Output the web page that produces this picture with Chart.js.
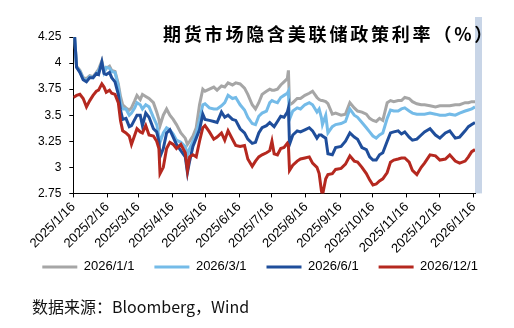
<!DOCTYPE html>
<html>
<head>
<meta charset="utf-8">
<script src="https://cdn.jsdelivr.net/npm/chart.js@4.4.1/dist/chart.umd.min.js"></script>
<style>
  body { margin: 0; background: #fff; }
  #wrap { position: relative; width: 514px; height: 328px; overflow: hidden; }
  #title { position: absolute; left: 163px; top: 23px; font: bold 18px "Noto Sans CJK SC", sans-serif; letter-spacing: 2.8px; line-height: 20px; color: #000; white-space: nowrap; }
  #source { position: absolute; left: 32px; top: 295px; font: 16px "Noto Sans CJK SC", sans-serif; line-height: 22px; color: #111; white-space: nowrap; }
</style>
</head>
<body>
<div id="wrap">
  <canvas id="chart" width="514" height="328"></canvas>
  <div id="title">期货市场隐含美联储政策利率（%）</div>
  <div id="source">数据来源：Bloomberg，Wind</div>
</div>
<script>
const seriesNames = ["2026/1/1", "2026/3/1", "2026/6/1", "2026/12/1"];
const seriesColors = ["#a6a6a6", "#74bbe8", "#1f4e9b", "#b5281f"];

const tickLabels = ["2025/1/16", "2025/2/16", "2025/3/16", "2025/4/16", "2025/5/16", "2025/6/16",
  "2025/7/16", "2025/8/16", "2025/9/16", "2025/10/16", "2025/11/16", "2025/12/16", "2026/1/16"];

const dates = [
  "2025-01-16", "2025-01-19", "2025-01-22", "2025-01-25", "2025-01-28", "2025-01-31",
  "2025-02-03", "2025-02-06", "2025-02-08", "2025-02-11", "2025-02-13", "2025-02-15",
  "2025-02-18", "2025-02-20", "2025-02-23", "2025-02-26", "2025-02-28", "2025-03-02",
  "2025-03-05", "2025-03-08", "2025-03-10", "2025-03-13", "2025-03-15", "2025-03-18",
  "2025-03-20", "2025-03-23", "2025-03-26", "2025-03-30", "2025-04-02", "2025-04-04",
  "2025-04-05", "2025-04-08", "2025-04-11", "2025-04-14", "2025-04-17", "2025-04-20",
  "2025-04-24", "2025-04-28", "2025-04-30", "2025-05-02", "2025-05-05", "2025-05-08",
  "2025-05-11", "2025-05-14", "2025-05-16", "2025-05-20", "2025-05-24", "2025-05-27",
  "2025-05-31", "2025-06-03", "2025-06-06", "2025-06-10", "2025-06-13", "2025-06-17",
  "2025-06-21", "2025-06-24", "2025-06-28", "2025-07-01", "2025-07-04", "2025-07-07",
  "2025-07-11", "2025-07-14", "2025-07-16", "2025-07-18", "2025-07-21", "2025-07-24",
  "2025-07-27", "2025-07-30", "2025-07-31", "2025-08-01", "2025-08-04", "2025-08-08",
  "2025-08-11", "2025-08-15", "2025-08-19", "2025-08-22", "2025-08-26", "2025-08-28",
  "2025-08-30", "2025-08-31", "2025-09-03", "2025-09-05", "2025-09-09", "2025-09-12",
  "2025-09-17", "2025-09-21", "2025-09-25", "2025-09-29", "2025-10-02", "2025-10-06",
  "2025-10-10", "2025-10-13", "2025-10-16", "2025-10-19", "2025-10-22", "2025-10-25",
  "2025-10-29", "2025-11-01", "2025-11-04", "2025-11-08", "2025-11-11", "2025-11-14",
  "2025-11-18", "2025-11-21", "2025-11-25", "2025-11-29", "2025-12-02", "2025-12-07",
  "2025-12-12", "2025-12-16", "2025-12-21", "2025-12-25", "2025-12-30", "2026-01-03",
  "2026-01-08", "2026-01-11", "2026-01-14", "2026-01-17"
];

const jan26 = [
  4.44, 3.97, 3.93, 3.86, 3.85, 3.88, 3.87, 3.91, 3.94, 4.02, 3.92, 3.95,
  3.97, 3.93, 3.92, 3.80, 3.68, 3.60, 3.57, 3.55, 3.57, 3.64, 3.69, 3.65,
  3.70, 3.68, 3.66, 3.62, 3.53, 3.46, 3.40, 3.50, 3.56, 3.50, 3.46, 3.41,
  3.33, 3.28, 3.22, 3.25, 3.30, 3.38, 3.60, 3.75, 3.73, 3.75, 3.77, 3.74,
  3.78, 3.77, 3.81, 3.79, 3.81, 3.80, 3.76, 3.70, 3.60, 3.56, 3.62, 3.70,
  3.73, 3.75, 3.74, 3.74, 3.75, 3.79, 3.82, 3.85, 3.93, 3.60, 3.62, 3.66,
  3.66, 3.69, 3.71, 3.73, 3.67, 3.65, 3.64, 3.64, 3.63, 3.61, 3.51, 3.52,
  3.50, 3.51, 3.62, 3.57, 3.54, 3.53, 3.51, 3.47, 3.45, 3.44, 3.47, 3.45,
  3.62, 3.64, 3.63, 3.64, 3.64, 3.67, 3.66, 3.63, 3.61, 3.60, 3.60, 3.59,
  3.58, 3.59, 3.59, 3.59, 3.60, 3.60, 3.62, 3.62, 3.63, 3.63
];
const mar26 = [
  4.44, 3.96, 3.92, 3.85, 3.83, 3.87, 3.86, 3.90, 3.92, 4.00, 3.91, 3.96,
  3.95, 3.92, 3.91, 3.78, 3.62, 3.56, 3.56, 3.50, 3.52, 3.57, 3.62, 3.60,
  3.56, 3.60, 3.58, 3.48, 3.41, 3.30, 3.24, 3.33, 3.38, 3.36, 3.32, 3.26,
  3.24, 3.20, 3.12, 3.18, 3.25, 3.32, 3.45, 3.60, 3.61, 3.57, 3.56, 3.56,
  3.59, 3.62, 3.69, 3.66, 3.67, 3.60, 3.55, 3.48, 3.42, 3.41, 3.49, 3.52,
  3.54, 3.62, 3.64, 3.63, 3.62, 3.67, 3.69, 3.71, 3.73, 3.46, 3.54, 3.57,
  3.56, 3.60, 3.62, 3.60, 3.53, 3.56, 3.48, 3.41, 3.50, 3.33, 3.39, 3.41,
  3.42, 3.44, 3.56, 3.50, 3.48, 3.43, 3.38, 3.34, 3.30, 3.28, 3.31, 3.33,
  3.47, 3.55, 3.54, 3.54, 3.56, 3.57, 3.54, 3.52, 3.51, 3.51, 3.51, 3.52,
  3.51, 3.50, 3.50, 3.51, 3.50, 3.52, 3.54, 3.55, 3.56, 3.58
];
const jun26 = [
  4.45, 3.96, 3.91, 3.84, 3.82, 3.86, 3.86, 3.90, 3.89, 4.01, 3.90, 3.89,
  3.91, 3.86, 3.82, 3.70, 3.55, 3.46, 3.47, 3.39, 3.40, 3.46, 3.50, 3.50,
  3.40, 3.52, 3.48, 3.37, 3.34, 3.25, 3.10, 3.18, 3.33, 3.36, 3.29, 3.22,
  3.16, 3.10, 2.95, 3.06, 3.20, 3.28, 3.36, 3.51, 3.46, 3.45, 3.44, 3.43,
  3.53, 3.48, 3.50, 3.46, 3.45, 3.37, 3.33, 3.27, 3.23, 3.24, 3.33, 3.38,
  3.40, 3.43, 3.41, 3.39, 3.44, 3.49, 3.48, 3.53, 3.57, 3.22, 3.31, 3.35,
  3.34, 3.36, 3.38, 3.35, 3.28, 3.31, 3.31, 3.30, 3.28, 3.13, 3.12, 3.19,
  3.20, 3.25, 3.33, 3.29, 3.27, 3.19, 3.17, 3.10, 3.07, 3.07, 3.12, 3.14,
  3.25, 3.33, 3.34, 3.35, 3.32, 3.34, 3.29, 3.26, 3.27, 3.31, 3.34, 3.37,
  3.31, 3.28, 3.33, 3.35, 3.28, 3.29, 3.35, 3.39, 3.41, 3.43
];
const dec26 = [
  3.67, 3.69, 3.70, 3.66, 3.58, 3.64, 3.69, 3.73, 3.74, 3.80, 3.77, 3.72,
  3.74, 3.71, 3.70, 3.62, 3.45, 3.35, 3.33, 3.30, 3.22, 3.31, 3.37, 3.34,
  3.33, 3.40, 3.31, 3.30, 3.25, 3.18, 2.94, 3.00, 3.18, 3.24, 3.22, 3.18,
  3.22, 3.14, 2.97, 3.10, 3.12, 3.10, 3.25, 3.38, 3.40, 3.34, 3.27, 3.29,
  3.33, 3.26, 3.35, 3.27, 3.21, 3.20, 3.21, 3.08, 3.01, 3.06, 3.10, 3.12,
  3.14, 3.16, 3.25, 3.13, 3.12, 3.18, 3.19, 3.23, 3.21, 2.97, 3.02, 3.06,
  3.08, 3.09, 3.10, 3.04, 3.00, 2.94, 2.78, 2.73, 2.89, 2.93, 2.94, 2.98,
  2.99, 3.03, 3.11, 3.06, 3.05, 3.00, 2.94, 2.88, 2.83, 2.84, 2.87, 2.89,
  2.95, 3.05, 3.07, 3.08, 3.09, 3.09, 3.05, 2.97, 2.93, 3.00, 3.04, 3.12,
  3.11, 3.07, 3.08, 3.12, 3.06, 3.04, 3.06, 3.10, 3.15, 3.17
];

// day offsets from the first date, used as x on a linear axis
const dayOf = (s) => {
  const p = s.split(/[-\/]/).map(Number);
  return (Date.UTC(p[0], p[1] - 1, p[2]) - Date.UTC(2025, 0, 16)) / 864e5;
};
const xs = dates.map(dayOf);
const tickDays = tickLabels.map(dayOf);

const allSeries = [jan26, mar26, jun26, dec26];
const datasets = allSeries.map((vals, i) => ({
  label: seriesNames[i],
  data: vals.map((v, j) => ({ x: xs[j], y: v })),
  borderColor: seriesColors[i],
  backgroundColor: seriesColors[i],
  borderWidth: 3,
  pointRadius: 0,
  tension: 0,
  order: 4 - i
}));

// light blue strip on the right of the plot
const sideBand = {
  id: "sideBand",
  beforeDraw(chart) {
    const { ctx, chartArea } = chart;
    ctx.save();
    ctx.fillStyle = "#c8d5e7";
    ctx.fillRect(chartArea.right, 17, 7, chartArea.bottom - 17);
    ctx.restore();
  }
};

// pull the legend up under the rotated date labels
const legendUp = {
  id: "legendUp",
  afterLayout(chart) {
    chart.legend.top -= 15;
    chart.legend.bottom -= 15;
  }
};

new Chart(document.getElementById("chart"), {
  type: "line",
  data: { datasets: datasets },
  plugins: [sideBand, legendUp],
  options: {
    responsive: false,
    animation: false,
    devicePixelRatio: 1,
    layout: { padding: { left: 22.3, right: 0, top: 37, bottom: 29.6 } },
    plugins: {
      tooltip: { enabled: false },
      legend: {
        position: "bottom",
        align: "start",
        labels: {
          boxWidth: 35,
          boxHeight: 3,
          padding: 20,
          color: "#000",
          font: { family: "Liberation Sans", size: 13 },
          sort: (a, b) => a.datasetIndex - b.datasetIndex,
          generateLabels: (chart) =>
            Chart.defaults.plugins.legend.labels.generateLabels(chart).map((it) => {
              it.lineWidth = 0;
              it.fillStyle = it.strokeStyle;
              return it;
            })
        }
      }
    },
    scales: {
      x: {
        type: "linear",
        min: 0,
        max: xs[xs.length - 1],
        afterBuildTicks: (scale) => { scale.ticks = tickDays.map((d) => ({ value: d })); },
        afterFit: (scale) => { scale.height = 62; },
        grid: { display: true, drawOnChartArea: false, drawTicks: true, tickLength: 4, color: "#000" },
        border: { color: "#000", width: 1 },
        ticks: {
          autoSkip: false,
          maxRotation: 45,
          minRotation: 45,
          padding: 2,
          color: "#000",
          font: { family: "Liberation Sans", size: 13 },
          callback: (v, i) => tickLabels[i]
        }
      },
      y: {
        min: 2.75,
        max: 4.25,
        afterFit: (scale) => { scale.width = 51; },
        grid: { display: true, drawOnChartArea: false, drawTicks: true, tickLength: 4, color: "#000" },
        border: { color: "#000", width: 1 },
        ticks: {
          stepSize: 0.25,
          padding: 8,
          color: "#000",
          font: { family: "Liberation Sans", size: 12 },
          callback: (v) => String(+v.toFixed(2))
        }
      },
      yRight: {
        position: "right",
        display: true,
        grid: { display: false },
        border: { display: false },
        ticks: { display: false },
        afterFit: (scale) => { scale.width = 39; }
      }
    }
  }
});
</script>
</body>
</html>
